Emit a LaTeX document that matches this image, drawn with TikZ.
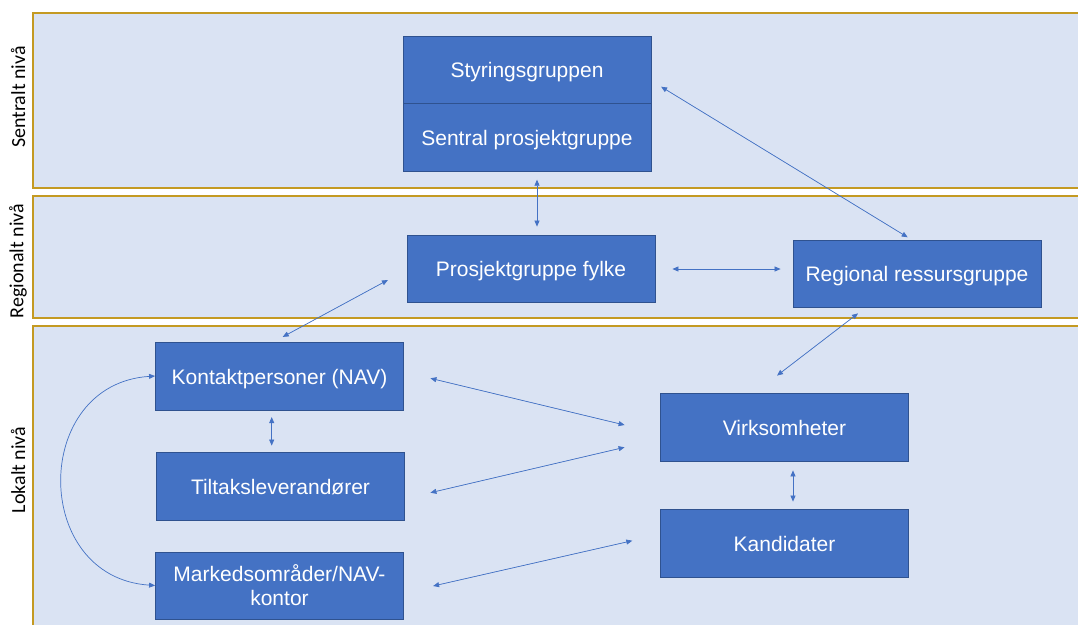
\documentclass[tikz,border=0pt]{standalone}
\usepackage{fontspec}
\setmainfont{Liberation Sans}
\newfontfamily\bandfont{Carlito}
\usetikzlibrary{arrows.meta}
\definecolor{boxblue}{HTML}{4472C4}
\definecolor{boxline}{HTML}{2F528F}
\definecolor{bandfill}{HTML}{DAE3F3}
\definecolor{bandline}{HTML}{C49A22}
\begin{document}
\begin{tikzpicture}[x=1pt,y=-1pt,>={Triangle[length=6pt,width=5pt]},
box/.style={draw=boxline,line width=0.8pt,fill=boxblue,text=white,
  minimum width=248pt,minimum height=67pt,inner sep=0pt,align=center,
  text height=16pt,text depth=0pt,font=\fontsize{21}{24}\selectfont},
link/.style={<->,draw=boxblue,fill=boxblue,line width=0.7pt}]
\useasboundingbox (0,0) rectangle (1078,624);
\fill[white] (0,0) rectangle (1078,624);
\clip (0,0) rectangle (1078,624);
% the three levels
\foreach \t/\b/\m/\lab in {13/188/97/Sentralt nivå,196/318/261/Regionalt nivå,326/640/470/Lokalt nivå}{
\draw[bandline,fill=bandfill,line width=1.2pt] (33,\t) rectangle (1095,\b);
\node[rotate=90,font=\bandfont\fontsize{20}{24}\selectfont] at (18,\m) {\lab};
}
% central level
\node[box,minimum height=67pt] (sty) at (527,69.5) {Styringsgruppen};
\node[box,minimum height=68pt] (sen) at (527,137) {Sentral prosjektgruppe};
% regional level
\node[box] (pfy) at (531,268.5) {Prosjektgruppe fylke};
\node[box] (reg) at (917,273.5) {Regional ressursgruppe};
% local level
\node[box,minimum height=68pt] (kon) at (279.5,376) {Kontaktpersoner (NAV)};
\node[box,minimum height=68pt] (til) at (280.5,486) {Tiltaksleverandører};
\node[box,text height=40pt] (mar) at (279.5,585.5) {Markedsområder/NAV-\\kontor};
\node[box,minimum height=68pt] (vir) at (784.5,427.5) {Virksomheter};
\node[box,minimum height=68pt] (kan) at (784.5,543.5) {Kandidater};
% connectors
\draw[link] ([shift={(9.7pt,-17.2pt)}]sty.east) -- ([shift={(-9.3pt,2.3pt)}]reg.north);
\draw[link] ([shift={(10pt,-8.3pt)}]sen.south) -- ([shift={(6pt,8pt)}]pfy.north);
\draw[link] ([shift={(17pt,-0.5pt)}]pfy.east) -- ([shift={(-12pt,4.5pt)}]reg.west);
\draw[link] ([shift={(-18.7pt,-11.5pt)}]pfy.west) -- ([shift={(3.2pt,4.7pt)}]kon.north);
\draw[link] ([shift={(-59pt,-6pt)}]reg.south) -- ([shift={(-7.5pt,17.5pt)}]vir.north);
\draw[link] ([shift={(-7.8pt,-6.7pt)}]kon.south) -- ([shift={(-8.8pt,6pt)}]til.north);
\draw[link] ([shift={(26.5pt,-2.3pt)}]kon.east) -- ([shift={(-35.5pt,2.5pt)}]vir.west);
\draw[link] ([shift={(25.5pt,-6.7pt)}]til.east) -- ([shift={(-35.5pt,-19.8pt)}]vir.west);
\draw[link] ([shift={(29.2pt,-0.5pt)}]mar.east) -- ([shift={(-27.8pt,2.8pt)}]kan.west);
\draw[link] ([shift={(8.5pt,-8.5pt)}]vir.south) -- ([shift={(8.5pt,7.5pt)}]kan.north);
\draw[link,fill=none] (kon.west) .. controls ([shift={(-124pt,-8pt)}]kon.west) and ([shift={(-124pt,8pt)}]mar.west) .. (mar.west);
\end{tikzpicture}
\end{document}
